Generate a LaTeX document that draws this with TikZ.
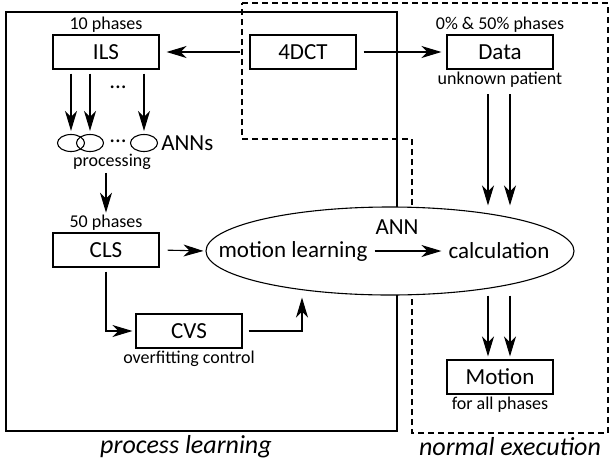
\documentclass[tikz,border=0pt]{standalone}
\usepackage{fontspec}
\setmainfont{Carlito}
\usetikzlibrary{shapes.geometric, arrows.meta, positioning, calc}
\tikzset{
    block/.style={
        rectangle, draw=black, line width=1.1pt,
        minimum width=106pt, minimum height=34pt, inner sep=0pt,
        fill=white, font=\fontsize{23}{26}\selectfont
    },
    note/.style={font=\fontsize{18}{20}\selectfont, inner sep=1pt},
    annunit/.style={
        ellipse, draw=black, line width=1.1pt,
        minimum width=27pt, minimum height=17pt, inner sep=0pt
    },
    bigtext/.style={font=\fontsize{23}{26}\selectfont, inner sep=1pt},
    region/.style={font=\fontsize{26}{30}\selectfont\itshape, inner sep=0pt},
    wire/.style={draw=black, line width=1.1pt,
        -{Stealth[length=20pt, width=12pt, inset=6pt]},
        shorten <=4pt, shorten >=3pt},
    frame/.style={draw=black, line width=1.3pt},
    dashframe/.style={draw=black, line width=1.3pt, dash pattern=on 6pt off 4pt}
}
\begin{document}
\begin{tikzpicture}[x=1pt, y=-1pt]
\useasboundingbox (0,0) rectangle (611,464);

% Regions
\draw[frame] (6,12) rectangle (397,431);
\draw[dashframe] (242,3) -- (608,3) -- (608,433) -- (412,433) -- (412,139) -- (242,139) -- cycle;
\node[region] (learnLbl) at (186,447) {process learning};
\node[region] (execLbl) at (510,447) {normal execution};

% Top row
\node[block] (ils) at (106,52) {ILS};
\node[note, above=1pt of ils] (phases10) {10 phases};
\node[block] (ct) at (303,52) {4DCT};
\node[block] (data) at (500,52) {Data};
\node[note, above=1pt of data] (phasesData) {0\% \& 50\% phases};
\node[note, below=1pt of data] (dataNote) {unknown patient};

% ANN units
\node[annunit] (ann1) at (71,143) {};
\node[annunit] (ann2) at (90,143) {};
\node[annunit] (ann3) at (144,143) {};
\node[bigtext] (annDots) at (118,141) {...};
\node[bigtext] (ilsDots) at (118,87) {...};
\node[bigtext, right=2pt of ann3] (annsLbl) {ANNs};
\node[note] (procLbl) at (112,162) {processing};

% Learning column
\node[block] (cls) at (106,250) {CLS};
\node[note, above=1pt of cls] (phases50) {50 phases};
\node[block] (cvs) at (189,331) {CVS};
\node[note, below=1pt of cvs] (cvsNote) {overfitting control};

% ANN ellipse
\node[ellipse, draw=black, line width=1.1pt, fill=white,
      minimum width=368pt, minimum height=88pt] (annEll) at (390,251) {};
\node[bigtext] (learn) at (293,251) {motion learning};
\node[bigtext] (calc) at (499,251) {calculation};
\node[bigtext] (annLbl) at (397,227) {ANN};

% Output
\node[block] (motion) at (500,377) {Motion};
\node[note, below=1pt of motion] (motionNote) {for all phases};

% Connections
\draw[wire, shorten <=9pt, shorten >=7pt] (ct.west) -- (ils.east);
\draw[wire, shorten <=7pt, shorten >=5pt] (ct.east) -- (data.west);
\draw[wire] (ils.south -| ann1) -- (ann1.north);
\draw[wire] (ils.south -| ann2) -- (ann2.north);
\draw[wire] (ils.south -| ann3) -- (ann3.north);
\draw[wire, shorten <=2pt, shorten >=1pt] (procLbl.south -| phases50) -- (phases50.north);
\draw[wire, shorten <=8pt, shorten >=2pt] (cls.east) -- (annEll.west);
\draw[wire] (cls.south) |- (cvs.west);
\draw[wire, shorten <=6pt, shorten >=2pt] (cvs.east) -| ([xshift=-88pt]annEll.south);
\draw[wire, shorten <=6pt, shorten >=6pt] (learn.east) -- (calc.west);
\draw[wire, shorten <=6pt, shorten >=1pt] ([xshift=-12pt]dataNote.south) -- ([xshift=-12pt]dataNote.south |- annEll.north);
\draw[wire, shorten <=6pt, shorten >=1pt] ([xshift=10pt]dataNote.south) -- ([xshift=10pt]dataNote.south |- annEll.north);
\draw[wire, shorten <=0pt] ([xshift=-12pt]motion.north |- annEll.south) -- ([xshift=-12pt]motion.north);
\draw[wire, shorten <=0pt] ([xshift=10pt]motion.north |- annEll.south) -- ([xshift=10pt]motion.north);

\end{tikzpicture}
\end{document}
